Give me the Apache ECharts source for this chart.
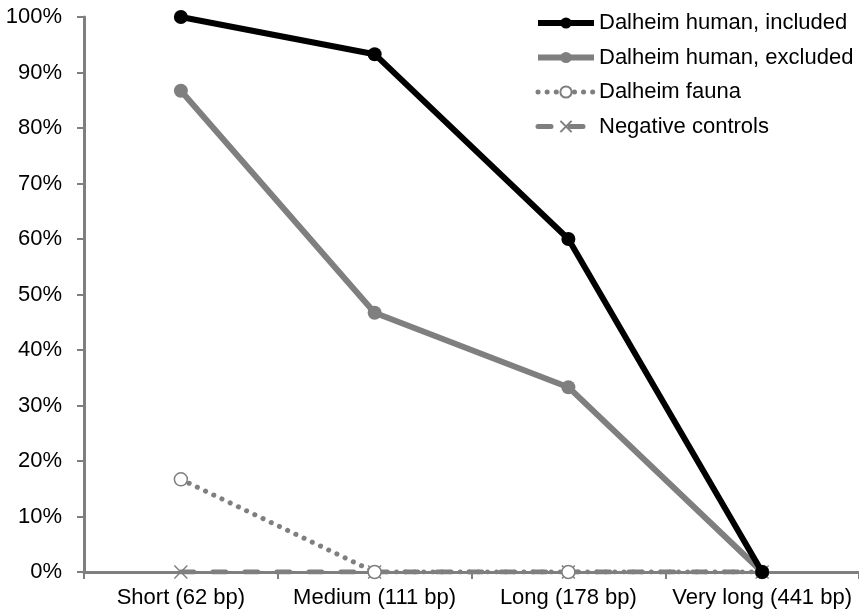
<!DOCTYPE html>
<html><head><meta charset="utf-8">
<script src="https://cdn.jsdelivr.net/npm/echarts@6/dist/echarts.min.js"></script>
<style>html,body{margin:0;padding:0;background:#fff}#c{width:859px;height:615px}</style>
</head><body><div id="c"></div>
<script>
const categories = ['Short (62 bp)', 'Medium (111 bp)', 'Long (178 bp)', 'Very long (441 bp)'];
const humanIncluded = [100, 93.3, 60, 0];
const humanExcluded = [86.7, 46.7, 33.3, 0];
const fauna = [16.7, 0, 0, 0];
const negativeControls = [0, 0, 0, 0];
const yTicks = [0,10,20,30,40,50,60,70,80,90,100];

const GRAY = '#7f7f7f';
const FONT = 'Liberation Sans, Arial, sans-serif';
const chart = echarts.init(document.getElementById('c'));
chart.setOption({
  animation: false,
  textStyle: {fontFamily: FONT},
  grid: {left: 84, right: 0, top: 17, bottom: 43, containLabel: false},
  legend: {
    orient: 'vertical', left: 535, top: 12, padding: 0, itemGap: 12.5, itemWidth: 56, itemHeight: 14,
    lineStyle: {width: 'inherit'},
    textStyle: {fontSize: 22, color: '#000', fontFamily: FONT},
    data: ['Dalheim human, included', 'Dalheim human, excluded', 'Dalheim fauna', 'Negative controls']
  },
  xAxis: {
    type: 'category', data: categories, boundaryGap: true,
    axisLine: {lineStyle: {color: GRAY, width: 3}},
    axisTick: {show: true, length: 7, lineStyle: {color: GRAY, width: 2}},
    axisLabel: {fontSize: 22, color: '#000', margin: 15, interval: 0}
  },
  yAxis: {
    type: 'value', min: 0, max: 100, interval: 10,
    axisLine: {show: true, lineStyle: {color: GRAY, width: 3}},
    axisTick: {show: true, length: 7, inside: false, lineStyle: {color: GRAY, width: 2}},
    splitLine: {show: false},
    axisLabel: {fontSize: 22, color: '#000', margin: 22, formatter: v => yTicks.includes(v) ? v + '%' : ''}
  },
  series: [
    {name: 'Negative controls', type: 'line', data: negativeControls, symbol: 'path://M0,0L10,10M10,0L0,10', symbolSize: 13,
     lineStyle: {color: GRAY, width: 5, type: [13, 19], cap: 'round'}, itemStyle: {color: 'none', borderColor: GRAY, borderWidth: 1.5}, z: 2},
    {name: 'Dalheim fauna', type: 'line', data: fauna, symbol: 'circle', symbolSize: 13,
     lineStyle: {color: GRAY, width: 5, type: [0.1, 9], cap: 'round'}, itemStyle: {color: '#fff', borderColor: GRAY, borderWidth: 1.5}, z: 3},
    {name: 'Dalheim human, excluded', type: 'line', data: humanExcluded, symbol: 'circle', symbolSize: 14,
     lineStyle: {color: GRAY, width: 6}, itemStyle: {color: GRAY}, z: 4},
    {name: 'Dalheim human, included', type: 'line', data: humanIncluded, symbol: 'circle', symbolSize: 14,
     lineStyle: {color: '#000', width: 6}, itemStyle: {color: '#000'}, z: 5}
  ]
});
</script></body></html>
